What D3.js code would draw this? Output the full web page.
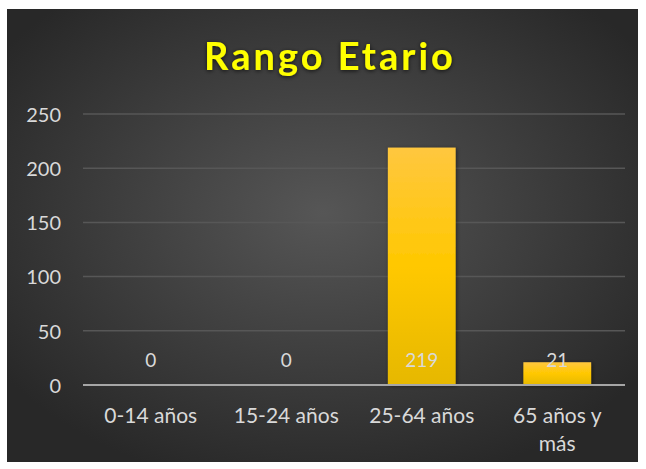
<!DOCTYPE html>
<html><head><meta charset="utf-8">
<script src="https://cdn.jsdelivr.net/npm/d3@7"></script>
<style>html,body{margin:0;padding:0;background:#fff;}svg{display:block;}</style>
</head><body>
<svg id="c" width="646" height="469"></svg>
<script>
const categories = ["0-14 años", "15-24 años", "25-64 años", "65 años y más"];
const categoryLines = [["0-14 años"], ["15-24 años"], ["25-64 años"], ["65 años y", "más"]];
const values = [0, 0, 219, 21];
const yTicks = [0, 50, 100, 150, 200, 250];
const title = "Rango Etario";

const svg = d3.select("#c");
const defs = svg.append("defs");
const bg = defs.append("radialGradient").attr("id","bg").attr("cx","50%").attr("cy","45%").attr("r","62%");
bg.append("stop").attr("offset","0%").attr("stop-color","#565656");
bg.append("stop").attr("offset","100%").attr("stop-color","#282828");
const bar = defs.append("linearGradient").attr("id","bar").attr("x1",0).attr("y1",0).attr("x2",0).attr("y2",1);
bar.append("stop").attr("offset","0%").attr("stop-color","#ffc73f");
bar.append("stop").attr("offset","50%").attr("stop-color","#ffc800");
bar.append("stop").attr("offset","100%").attr("stop-color","#e6b800");
const glow = defs.append("filter").attr("id","glow").attr("x","-20%").attr("y","-40%").attr("width","140%").attr("height","180%");
glow.append("feDropShadow").attr("dx",0).attr("dy",1).attr("stdDeviation",2).attr("flood-color","#000").attr("flood-opacity",0.7);
const shadow = defs.append("filter").attr("id","shadow").attr("x","-20%").attr("y","-20%").attr("width","140%").attr("height","140%");
shadow.append("feDropShadow").attr("dx",1).attr("dy",1).attr("stdDeviation",2).attr("flood-color","#000").attr("flood-opacity",0.5);

svg.append("rect").attr("x",7).attr("y",9).attr("width",631).attr("height",453).attr("fill","url(#bg)");

const x0 = 83, x1 = 625, yTop = 114, yBot = 385;
const x = d3.scaleBand().domain(categories).range([x0, x1]).padding(0);
const y = d3.scaleLinear().domain([0, 250]).range([yBot, yTop]);

// gridlines
svg.append("g").selectAll("line").data(yTicks.filter(d => d > 0)).join("line")
  .attr("x1", x0).attr("x2", x1).attr("y1", d => y(d)).attr("y2", d => y(d))
  .attr("stroke", "#575757").attr("stroke-width", 1.5);

// y axis labels
const yAxis = d3.axisLeft(y).tickValues(yTicks).tickSize(0).tickPadding(0);
const ya = svg.append("g").attr("transform", `translate(61,0)`).call(yAxis);
ya.select(".domain").remove();
ya.selectAll("text").attr("font-family","Lato, 'Open Sans', sans-serif").attr("font-size",20).attr("fill","#d9d9d9").attr("dy","0.36em");

// bars
const bw = x.bandwidth() * 0.5;
svg.append("g").selectAll("rect").data(values).join("rect")
  .attr("x", (d,i) => x(categories[i]) + (x.bandwidth() - bw)/2)
  .attr("y", d => y(d)).attr("width", bw).attr("height", d => yBot - y(d))
  .attr("fill","url(#bar)").attr("filter","url(#shadow)");

// zero axis line
svg.append("line").attr("x1", x0).attr("x2", x1).attr("y1", yBot).attr("y2", yBot)
  .attr("stroke","#a6a6a6").attr("stroke-width",2);

// value labels (inside base)
svg.append("g").selectAll("text").data(values).join("text")
  .attr("x", (d,i) => x(categories[i]) + x.bandwidth()/2)
  .attr("y", y(0) - 18)
  .attr("text-anchor","middle")
  .attr("font-family","Lato, 'Open Sans', sans-serif").attr("font-size",19)
  .attr("fill","#d9d9d9").text(d => d);

// x labels
const xl = svg.append("g").selectAll("text").data(categories).join("text")
  .attr("x", d => x(d) + x.bandwidth()/2)
  .attr("y", 423)
  .attr("text-anchor","middle")
  .attr("font-family","Lato, 'Open Sans', sans-serif").attr("font-size",21)
  .attr("fill","#d9d9d9");
xl.each(function(d,i){
  const t = d3.select(this);
  categoryLines[i].forEach((ln,j) => {
    t.append("tspan").attr("x", x(d) + x.bandwidth()/2).attr("dy", j === 0 ? 0 : 28).text(ln);
  });
});

// title
svg.append("text").attr("x", 330).attr("y", 70).attr("text-anchor","middle")
  .attr("font-family","Lato, 'Open Sans', sans-serif").attr("font-weight","bold")
  .attr("font-size",38).attr("letter-spacing",3)
  .attr("fill","#ffff00").attr("filter","url(#glow)").text(title);
</script>
</body></html>
